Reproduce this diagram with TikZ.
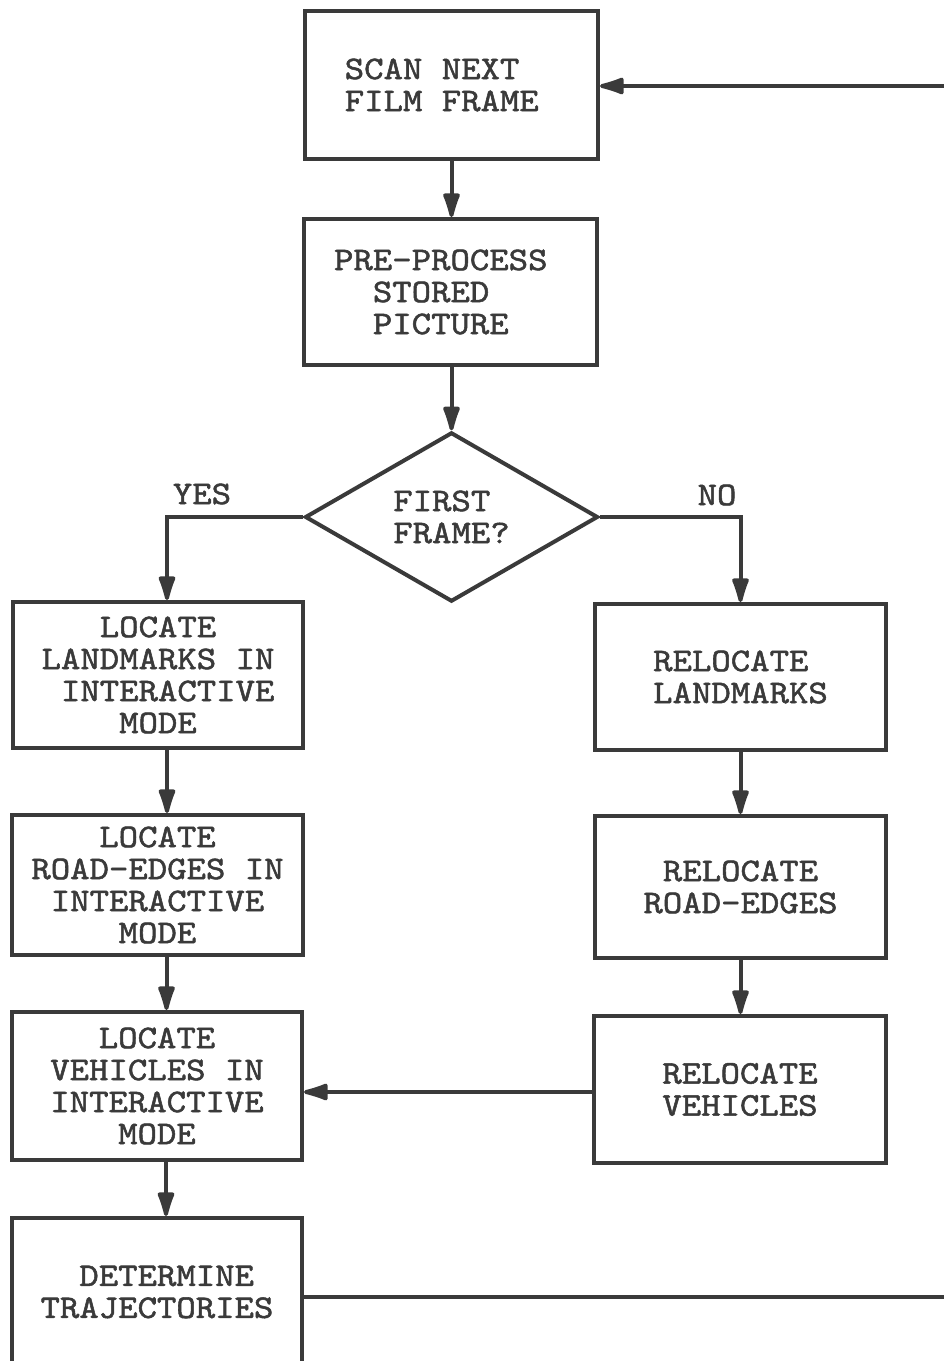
\documentclass[tikz,border=0pt]{standalone}
\usepackage{fontspec}
\setmainfont{lmmono10-regular.otf}[FakeBold=1.6, FakeStretch=1.12]
\usetikzlibrary{shapes.geometric,arrows.meta,calc}
\definecolor{ink}{RGB}{58,58,58}
\begin{document}
\begin{tikzpicture}[x=1pt,y=-1pt,
  txt/.style={text=ink, font=\fontsize{33}{32}\selectfont},
  box/.style={txt, draw=ink, line width=4pt, rectangle, inner sep=0pt, align=center},
  decision/.style={txt, draw=ink, line width=4pt, diamond, inner sep=0pt, align=left},
  arr/.style={draw=ink, line width=4pt, -{Latex[length=32pt,width=19pt,round]}},
  lbl/.style={txt, inner sep=0pt}]
\useasboundingbox (0,0) rectangle (944,1361);
\clip (0,0) rectangle (944,1361);

% main column
\node[box, align=left, minimum width=293, minimum height=148] (b1) at (451.5,85)
  {SCAN NEXT\\FILM FRAME\hphantom{X}};
\node[box, align=left, minimum width=293, minimum height=146] (b2) at (450.5,292)
  {PRE-PROCESS\hphantom{X}\\\hphantom{XX}STORED\\\hphantom{XX}PICTURE};
\node[decision, minimum width=293, minimum height=168] (d) at (451.5,517)
  {FIRST\\FRAME?};

% interactive branch
\node[box, minimum width=290, minimum height=146] (b3) at (158,675)
  {LOCATE\\LANDMARKS IN\\\hphantom{X}INTERACTIVE\\MODE};
\node[box, minimum width=291, minimum height=140] (b4) at (157.5,885)
  {LOCATE\\ROAD-EDGES IN\\INTERACTIVE\\MODE};
\node[box, minimum width=290, minimum height=148] (b5) at (157,1086)
  {LOCATE\\VEHICLES IN\\INTERACTIVE\\MODE};
\node[box, minimum width=290, minimum height=148] (b6) at (157,1292)
  {\hphantom{X}DETERMINE\\TRAJECTORIES};

% automatic branch
\node[box, align=left, minimum width=291, minimum height=146] (r1) at (740.5,677)
  {RELOCATE\\LANDMARKS};
\node[box, minimum width=291, minimum height=142] (r2) at (740.5,887)
  {RELOCATE\\ROAD-EDGES};
\node[box, minimum width=292, minimum height=147] (r3) at (740,1089.5)
  {RELOCATE\\VEHICLES};

% branch labels
\node[lbl] (yes) at (202,494) {YES};
\node[lbl] (no) at (717,495) {NO};

% connectors
\draw[arr] (b1.south) -- (b1.south |- b2.north);
\draw[arr] (d.north |- b2.south) -- (d.north);
\draw[arr] (d.west) -| ([xshift=9pt]b3.north);
\draw[arr] (d.east) -| (r1.north);
\draw[arr] ([xshift=9pt]b3.south) -- ([xshift=9pt]b3.south |- b4.north);
\draw[arr] ([xshift=9pt]b4.south) -- ([xshift=9pt]b4.south |- b5.north);
\draw[arr] ([xshift=9pt]b5.south) -- ([xshift=9pt]b5.south |- b6.north);
\draw[arr] (r1.south) -- (r1.south |- r2.north);
\draw[arr] (r2.south) -- (r2.south |- r3.north);
\draw[arr] ([yshift=-2.5pt]r3.west) -- ([yshift=-2.5pt]r3.west -| b5.east);
\draw[arr] ([yshift=-5pt]b6.east) -- ++(644,0) |- ([yshift=-1pt]b1.east);
\end{tikzpicture}
\end{document}
